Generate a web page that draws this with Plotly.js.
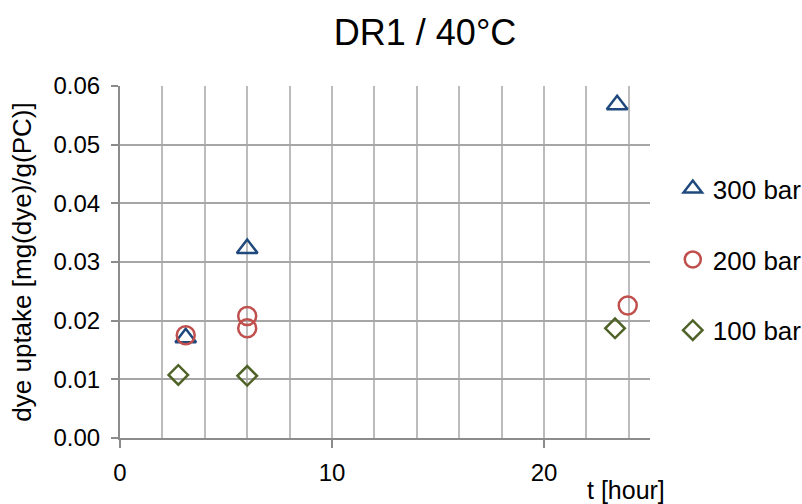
<!DOCTYPE html>
<html>
<head>
<meta charset="utf-8">
<script src="https://cdn.plot.ly/plotly-3.0.1.min.js"></script>
<style>html,body{margin:0;padding:0;background:#fff;}#chart{width:802px;height:504px;}</style>
</head>
<body>
<div id="chart"></div>
<script>
// Data
const seriesNames = ["300 bar", "200 bar", "100 bar"];
const t300 = [3.1, 6.0, 23.45];
const u300 = [0.0171, 0.0323, 0.0568];
const t200 = [3.1, 6.0, 6.0, 23.95];
const u200 = [0.0175, 0.0208, 0.0187, 0.0226];
const t100 = [2.75, 6.0, 23.35];
const u100 = [0.01075, 0.0106, 0.0187];
const yTickVals = [0, 0.01, 0.02, 0.03, 0.04, 0.05, 0.06];

const FONT = "Liberation Sans, Arial, sans-serif";

const traces = [
  {x: t300, y: u300, name: seriesNames[0], type: "scatter", mode: "markers", legendgroup: "a",
   marker: {symbol: "triangle-up-open", size: 18, color: "#1F497D", line: {width: 2.5, color: "#1F497D"}}},
  {x: t200, y: u200, name: seriesNames[1], type: "scatter", mode: "markers", legendgroup: "b",
   marker: {symbol: "circle-open", size: 18, color: "#C0504D", line: {width: 2.5, color: "#C0504D"}}},
  {x: t100, y: u100, name: seriesNames[2], type: "scatter", mode: "markers", legendgroup: "c",
   marker: {symbol: "diamond-open", size: 15, color: "#4F6228", line: {width: 2.5, color: "#4F6228"}}}
];

const layout = {
  width: 802, height: 504,
  margin: {l: 120, r: 152, t: 86, b: 66, autoexpand: false},
  paper_bgcolor: "#fff", plot_bgcolor: "#fff",
  font: {family: FONT, size: 24, color: "#000"},
  title: {text: "DR1 / 40°C", font: {family: FONT, size: 36, color: "#000"},
          x: 0.53, xref: "container", xanchor: "center", y: 0.935, yref: "container", yanchor: "middle"},
  showlegend: true,
  legend: {x: 1.043, xanchor: "left", y: 0.775, yanchor: "top", tracegroupgap: 34,
           font: {family: FONT, size: 26, color: "#000"}, bgcolor: "rgba(0,0,0,0)"},
  xaxis: {range: [0, 25], tickmode: "linear", tick0: 0, dtick: 10,
          showline: true, linecolor: "#8c8c8c", linewidth: 2,
          ticks: "outside", ticklen: 8, tickcolor: "#8c8c8c", tickwidth: 2, ticklabelstandoff: 4,
          showgrid: true, gridcolor: "#bcbcbc", gridwidth: 2, zeroline: false,
          minor: {tickmode: "linear", dtick: 2, tick0: 0, showgrid: true, gridcolor: "#bcbcbc", gridwidth: 2, ticks: ""},
          tickfont: {family: FONT, size: 24, color: "#000"}},
  yaxis: {range: [0, 0.06], tickvals: yTickVals, tickformat: ".2f",
          showline: true, linecolor: "#8c8c8c", linewidth: 2,
          ticks: "outside", ticklen: 7, tickcolor: "#8c8c8c", tickwidth: 2, ticklabelstandoff: 6,
          showgrid: true, gridcolor: "#a6a6a6", gridwidth: 2, zeroline: false,
          tickfont: {family: FONT, size: 24, color: "#000"},
          title: {text: "dye uptake [mg(dye)/g(PC)]", font: {family: FONT, size: 26, color: "#000"}, standoff: 14}},
  annotations: [
    {text: "t [hour]", xref: "paper", yref: "paper", x: 0.955, y: -0.148, xanchor: "center", yanchor: "middle",
     showarrow: false, font: {family: FONT, size: 25, color: "#000"}}
  ]
};

Plotly.newPlot("chart", traces, layout, {displayModeBar: false, staticPlot: true});
</script>
</body>
</html>
